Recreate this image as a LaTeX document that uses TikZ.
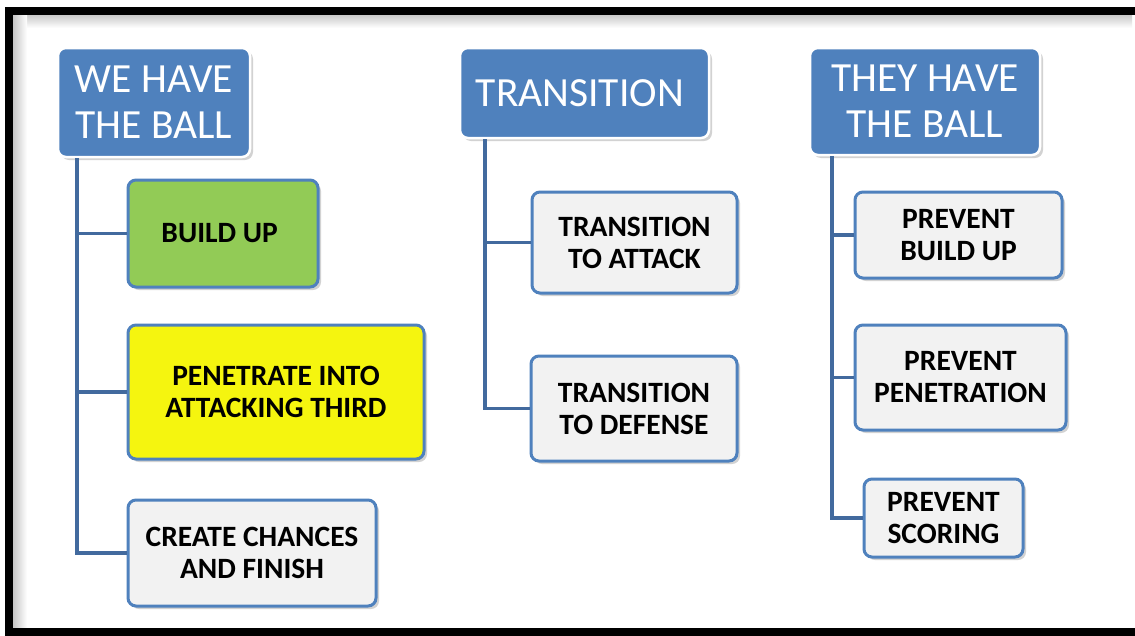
\documentclass[tikz,border=0pt]{standalone}
\usepackage{fontspec}
\setmainfont{Carlito}
\usetikzlibrary{positioning,shadows}
\usepackage{xcolor}

\definecolor{headblue}{RGB}{79,129,189}
\definecolor{lineblue}{RGB}{66,106,158}
\definecolor{buildgreen}{RGB}{146,203,86}
\definecolor{thirdyellow}{RGB}{245,245,15}
\definecolor{taskgrey}{RGB}{242,242,242}

\begin{document}
\begin{tikzpicture}[x=1pt, y=-1pt, every node/.style={
    rectangle,
    rounded corners=8pt,
    inner sep=0pt,
    align=center
},
header/.style={
    fill=headblue,
    draw=white,
    line width=2.5pt,
    text=white,
    font=\fontsize{41.5}{46}\selectfont,
    drop shadow={opacity=0.35, shadow xshift=3pt, shadow yshift=-3pt}
},
task/.style={
    fill=taskgrey,
    draw=headblue,
    line width=3pt,
    text=black,
    font=\fontsize{29.5}{32}\selectfont\bfseries,
    drop shadow={opacity=0.35, shadow xshift=3pt, shadow yshift=-3pt}
},
branch/.style={
    draw=lineblue,
    line width=3.5pt
}]
    \useasboundingbox (0, 0) rectangle (1135, 635);
    \fill[white] (0, 0) rectangle (1135, 635);
    \shade[top color=gray!45, bottom color=white] (13, 14) rectangle (1132, 28);
    \shade[left color=gray!45, right color=white] (13, 14) rectangle (27, 627);
    \draw[line width=8pt] (9, 10.5) rectangle (1139, 631.5);



    \node (we_have_ball) [header, minimum width=192pt, minimum height=109pt] at (154, 102.5)
    {
        WE HAVE\\THE BALL
    };
    \node (transition) [header, minimum width=249pt, minimum height=90pt] at (584.5, 93)
    {
        TRANSITION
    };
    \node (they_have_ball) [header, minimum width=230pt, minimum height=107pt] at (925, 101.5)
    {
        THEY HAVE\\THE BALL
    };




    \node (build_up) [task, fill=buildgreen, minimum width=190pt, minimum height=107pt] at (223, 233.5)
    {
        BUILD UP
    };
    \node (penetrate) [task, fill=thirdyellow, minimum width=296pt, minimum height=134pt] at (276, 392)
    {
        PENETRATE INTO\\ATTACKING THIRD
    };
    \node (create_chances) [task, minimum width=248pt, minimum height=106pt] at (252, 553)
    {
        CREATE CHANCES\\AND FINISH
    };



    \node (to_attack) [task, minimum width=205pt, minimum height=101pt] at (634.5, 242.5)
    {
        TRANSITION\\TO ATTACK
    };
    \node (to_defense) [task, minimum width=206pt, minimum height=105pt] at (634, 408.5)
    {
        TRANSITION\\TO DEFENSE
    };



    \node (prevent_build_up) [task, minimum width=207pt, minimum height=86pt] at (958.5, 235)
    {
        PREVENT\\BUILD UP
    };
    \node (prevent_penetration) [task, minimum width=211pt, minimum height=105pt] at (960.5, 377.5)
    {
        PREVENT\\PENETRATION
    };
    \node (prevent_scoring) [task, minimum width=159pt, minimum height=78pt] at (943.5, 518)
    {
        PREVENT\\SCORING
    };




    \coordinate (left_trunk) at (77, 158);
    \coordinate (middle_trunk) at (485, 139);
    \coordinate (right_trunk) at (832, 156);

    \draw[branch] (left_trunk) |- (create_chances.west);
    \draw[branch] (left_trunk |- build_up.west) to (build_up.west);
    \draw[branch] (left_trunk |- penetrate.west) to (penetrate.west);
    \draw[branch] (middle_trunk) |- (to_defense.west);
    \draw[branch] (middle_trunk |- to_attack.west) to (to_attack.west);
    \draw[branch] (right_trunk) |- (prevent_scoring.west);
    \draw[branch] (right_trunk |- prevent_build_up.west) to (prevent_build_up.west);
    \draw[branch] (right_trunk |- prevent_penetration.west) to (prevent_penetration.west);


\end{tikzpicture}
\end{document}
